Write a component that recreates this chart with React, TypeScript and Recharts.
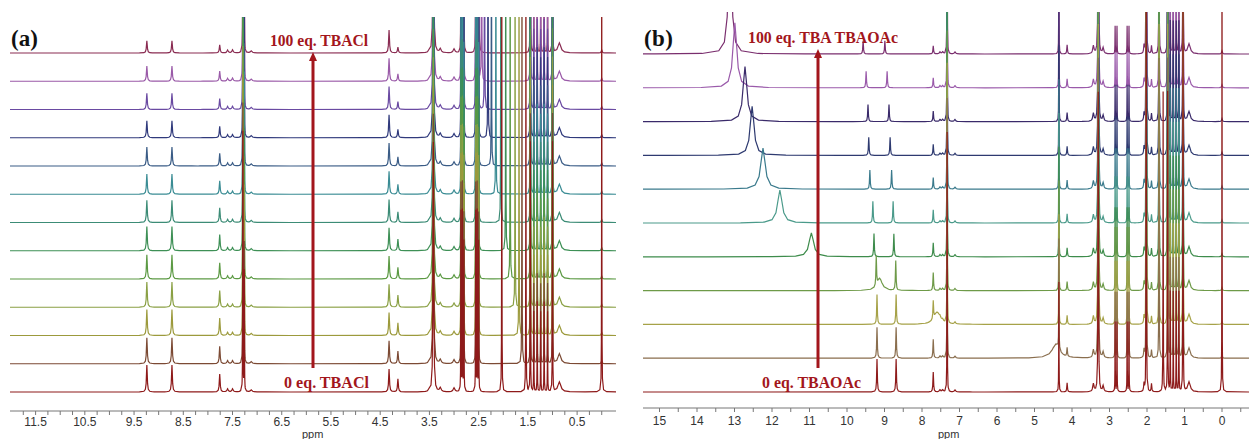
import { LineChart, Line, XAxis, YAxis } from "recharts";

type Peak = [number, number, number]; // ppm, height (px above baseline), half width (ppm)

// ---- panel (a): TBACl titration, 13 spectra, listed bottom -> top
const A_COLORS = [
  "#8e1a1a", "#7c4a34", "#9c9a3c", "#8aa044", "#5c9a44", "#3e9056", "#3c8c76",
  "#3a8c94", "#3a5c86", "#303a7c", "#6a4aa2", "#9a5aa8", "#8a2c52",
];
const A_SCALE = [1, 0.96, 0.96, 0.93, 0.9, 0.9, 0.82, 0.75, 0.7, 0.63, 0.6, 0.56, 0.45];
const A_AROM: Peak[] = [
  [9.24, 27, 0.01], [8.73, 27, 0.01], [7.76, 18, 0.01], [4.14, 13, 0.01],
];
const A_SMALL: Peak[] = [
  [7.6, 3, 0.015], [7.5, 3, 0.015], [7.12, 2, 0.02], [4.32, 23, 0.01],
  [3.28, 4, 0.02], [3.0, 4, 0.02], [0.86, 10, 0.035],
];
const A_TALL: Peak[] = [
  [7.29, 260, 0.003], [7.26, 120, 0.003], [3.42, 250, 0.008],
  [2.86, 180, 0.003], [2.83, 180, 0.003], [2.8, 150, 0.003],
  [2.56, 180, 0.003], [2.53, 180, 0.003], [2.5, 150, 0.003],
  [1.45, 250, 0.003], [1.38, 80, 0.003], [1.31, 90, 0.003], [1.24, 80, 0.003],
  [1.17, 90, 0.003], [1.1, 80, 0.003], [1.0, 250, 0.003],
];
const A_SHIFT = [1.54, 1.62, 1.68, 1.76, 1.86, 1.95, 2.05, 2.15, 2.24, 2.31, 2.38, 2.44, 2.5];
const A_BOTTOM_ONLY: Peak[] = [[2.03, 500, 0.0025], [0.0, 500, 0.0025]];
const A_TMS: Peak = [0.0, 3, 0.01];
const A_LABELS = [11.5, 10.5, 9.5, 8.5, 7.5, 6.5, 5.5, 4.5, 3.5, 2.5, 1.5, 0.5];

// ---- panel (b): TBAOAc titration, 11 spectra, listed bottom -> top
const B_COLORS = [
  "#8e1b1b", "#8a6e4e", "#a6a248", "#6e9a48", "#3e8c4c", "#4a9a8a",
  "#3a7a8c", "#2e3a70", "#3a2a6a", "#9a5aaa", "#7a2e6e",
];
const B_SCALE = [1, 0.94, 0.9, 0.9, 0.7, 0.66, 0.58, 0.55, 0.52, 0.5, 0.4];
const B_NH: (Peak | null)[] = [
  null, [4.43, 14, 0.12], [7.6, 12, 0.1], [9.13, 12, 0.08], [10.95, 24, 0.07],
  [11.79, 33, 0.07], [12.24, 41, 0.07], [12.53, 49, 0.06], [12.72, 55, 0.06],
  [12.99, 65, 0.06], [13.12, 120, 0.05],
];
const B_ARYL_1 = [9.2, 9.2, 9.2, 9.22, 9.28, 9.31, 9.39, 9.42, 9.44, 9.49, 9.57];
const B_ARYL_2 = [8.69, 8.69, 8.69, 8.7, 8.75, 8.77, 8.81, 8.85, 8.88, 8.93, 8.99];
const B_ARYL_HEIGHT = 33;
const B_AROM: Peak[] = [
  [7.7, 20, 0.01], [2.85, 70, 0.004], [2.8, 70, 0.004], [2.53, 70, 0.004], [2.48, 70, 0.004],
];
const B_SMALL: Peak[] = [
  [7.52, 2, 0.02], [7.45, 2, 0.02], [7.12, 2, 0.02], [4.13, 9, 0.01], [3.43, 8, 0.02],
  [3.17, 6, 0.02], [2.08, 8, 0.01], [1.88, 8, 0.01], [0.88, 10, 0.04],
];
const B_TALL: Peak[] = [
  [7.33, 260, 0.004], [4.35, 110, 0.004], [3.3, 300, 0.007], [2.02, 500, 0.004],
  [1.45, 300, 0.004], [1.38, 100, 0.004], [1.3, 100, 0.004], [1.22, 100, 0.004],
  [1.15, 100, 0.004], [1.04, 400, 0.004],
];
const B_SHIFT = [1.57, 1.68, 1.68, 1.68, 1.68, 1.68, 1.68, 1.68, 1.68, 1.68, 1.68];
const B_BOTTOM_ONLY: Peak[] = [[0.0, 500, 0.003]];
const B_TMS: Peak = [0.0, 3, 0.012];
const B_LABELS = [15, 14, 13, 12, 11, 10, 9, 8, 7, 6, 5, 4, 3, 2, 1, 0];

const OFFS = [-40, -15, -6, -3, -1.5, -0.6, 0, 0.6, 1.5, 3, 6, 15, 40];

function trace(peaks: Peak[], base: number, lo: number, hi: number) {
  const xs = new Set<number>([lo, hi]);
  peaks.forEach(([p, , w]) =>
    OFFS.forEach((k) => {
      const x = p + k * w;
      if (x > lo && x < hi) xs.add(x);
    })
  );
  return [...xs]
    .sort((a, b) => a - b)
    .map((x) => ({
      x,
      y: base + peaks.reduce((s, [p, h, w]) => s + h / (1 + ((x - p) / w) ** 2), 0),
    }));
}

const scaled = (list: Peak[], s: number): Peak[] => list.map(([p, h, w]) => [p, h * s, w]);

const aTraces = A_COLORS.map((color, i) => {
  const peaks: Peak[] = [
    ...scaled(A_AROM, A_SCALE[i]),
    ...A_SMALL,
    ...A_TALL,
    [A_SHIFT[i], 500, 0.0025],
    ...(i === 0 ? A_BOTTOM_ONLY : [A_TMS]),
  ];
  return { color, data: trace(peaks, 19 + i * 28.25, -0.29, 12.02) };
});

const bTraces = B_COLORS.map((color, i) => {
  const nh = B_NH[i];
  const peaks: Peak[] = [
    [B_ARYL_1[i], B_ARYL_HEIGHT * B_SCALE[i], 0.01],
    [B_ARYL_2[i], B_ARYL_HEIGHT * B_SCALE[i], 0.01],
    ...scaled(B_AROM, B_SCALE[i]),
    ...B_SMALL,
    ...B_TALL,
    [B_SHIFT[i], 300, 0.004],
    ...(i === 0 ? B_BOTTOM_ONLY : [B_TMS]),
    ...(nh ? [nh] : []),
  ];
  return { color, data: trace(peaks, 16 + i * 33.8, -0.72, 15.44) };
});

function ticksFrom(hi: number, lo: number, step: number) {
  const out: number[] = [];
  for (let v = hi; v >= lo - 1e-9; v -= step) out.push(Math.round(v * 100) / 100);
  return out;
}

const tickFont = { fontSize: 12, fill: "#333", fontFamily: "Liberation Sans, Arial" };

function Spectra(props: {
  traces: { color: string; data: { x: number; y: number }[] }[];
  left: number;
  margin: { top: number; left: number; right: number; bottom: number };
  domain: [number, number];
  yMax: number;
  ticks: number[];
  labels: number[];
  tickMargin: number;
}) {
  const { traces, left, margin, domain, yMax, ticks, labels, tickMargin } = props;
  return (
    <div style={{ position: "absolute", left, top: 0 }}>
      <LineChart width={620} height={439} margin={margin}>
        <XAxis
          type="number"
          dataKey="x"
          domain={domain}
          reversed
          allowDataOverflow
          ticks={ticks}
          interval={0}
          tickSize={4}
          tickMargin={tickMargin}
          height={28}
          tick={tickFont}
          tickFormatter={(v: number) => (labels.some((l) => Math.abs(l - v) < 1e-6) ? String(v) : "")}
          axisLine={{ stroke: "#777" }}
          tickLine={{ stroke: "#777" }}
        />
        <YAxis type="number" hide domain={[0, yMax]} allowDataOverflow />
        {traces
          .map((t, i) => (
            <Line
              key={i}
              data={t.data}
              dataKey="y"
              type="linear"
              stroke={t.color}
              strokeWidth={1.2}
              dot={false}
              isAnimationActive={false}
            />
          ))
          .reverse()}
      </LineChart>
    </div>
  );
}

const RED = "#a3161c";
const serif = "Liberation Serif, Times New Roman, serif";

export default function App() {
  return (
    <div style={{ position: "absolute", left: 0, top: 0, width: 1250, height: 439, background: "#fff" }}>
      <Spectra
        traces={aTraces}
        left={0}
        margin={{ top: 17, left: 10, right: 4, bottom: 0 }}
        domain={[-0.29, 12.02]}
        yMax={394}
        ticks={ticksFrom(11.75, 0, 0.25)}
        labels={A_LABELS}
        tickMargin={2}
      />
      <Spectra
        traces={bTraces}
        left={630}
        margin={{ top: 12, left: 13, right: 1, bottom: 3 }}
        domain={[-0.72, 15.44]}
        yMax={396}
        ticks={ticksFrom(15.0, -0.5, 0.5)}
        labels={B_LABELS}
        tickMargin={4}
      />
      <svg width={1250} height={439} style={{ position: "absolute", left: 0, top: 0, pointerEvents: "none" }}>
        <text x={11} y={46} fontFamily={serif} fontWeight="bold" fontSize={23} fill="#111" textLength={27}>(a)</text>
        <text x={644} y={46} fontFamily={serif} fontWeight="bold" fontSize={23} fill="#111" textLength={29}>(b)</text>

        <text x={270} y={46} fontFamily={serif} fontWeight="bold" fontSize={16} fill={RED} textLength={98} lengthAdjust="spacingAndGlyphs">100 eq. TBACl</text>
        <text x={284} y={388} fontFamily={serif} fontWeight="bold" fontSize={16.5} fill={RED} textLength={85} lengthAdjust="spacingAndGlyphs">0 eq. TBACl</text>
        <line x1={313} y1={368} x2={313} y2={58} stroke={RED} strokeWidth={3} />
        <polygon points="313,52 309,61 317,61" fill={RED} />

        <text x={748} y={43} fontFamily={serif} fontWeight="bold" fontSize={16} fill={RED} textLength={150} lengthAdjust="spacingAndGlyphs">100 eq. TBA TBAOAc</text>
        <text x={762} y={388} fontFamily={serif} fontWeight="bold" fontSize={16.5} fill={RED} textLength={99} lengthAdjust="spacingAndGlyphs">0 eq. TBAOAc</text>
        <line x1={818} y1={368} x2={818} y2={56} stroke={RED} strokeWidth={3} />
        <polygon points="818,49 814,58 822,58" fill={RED} />

        <text x={302} y={438} fontFamily="Liberation Sans, Arial" fontSize={11} fill="#333">ppm</text>
        <text x={938} y={438} fontFamily="Liberation Sans, Arial" fontSize={11} fill="#333">ppm</text>
      </svg>
    </div>
  );
}
